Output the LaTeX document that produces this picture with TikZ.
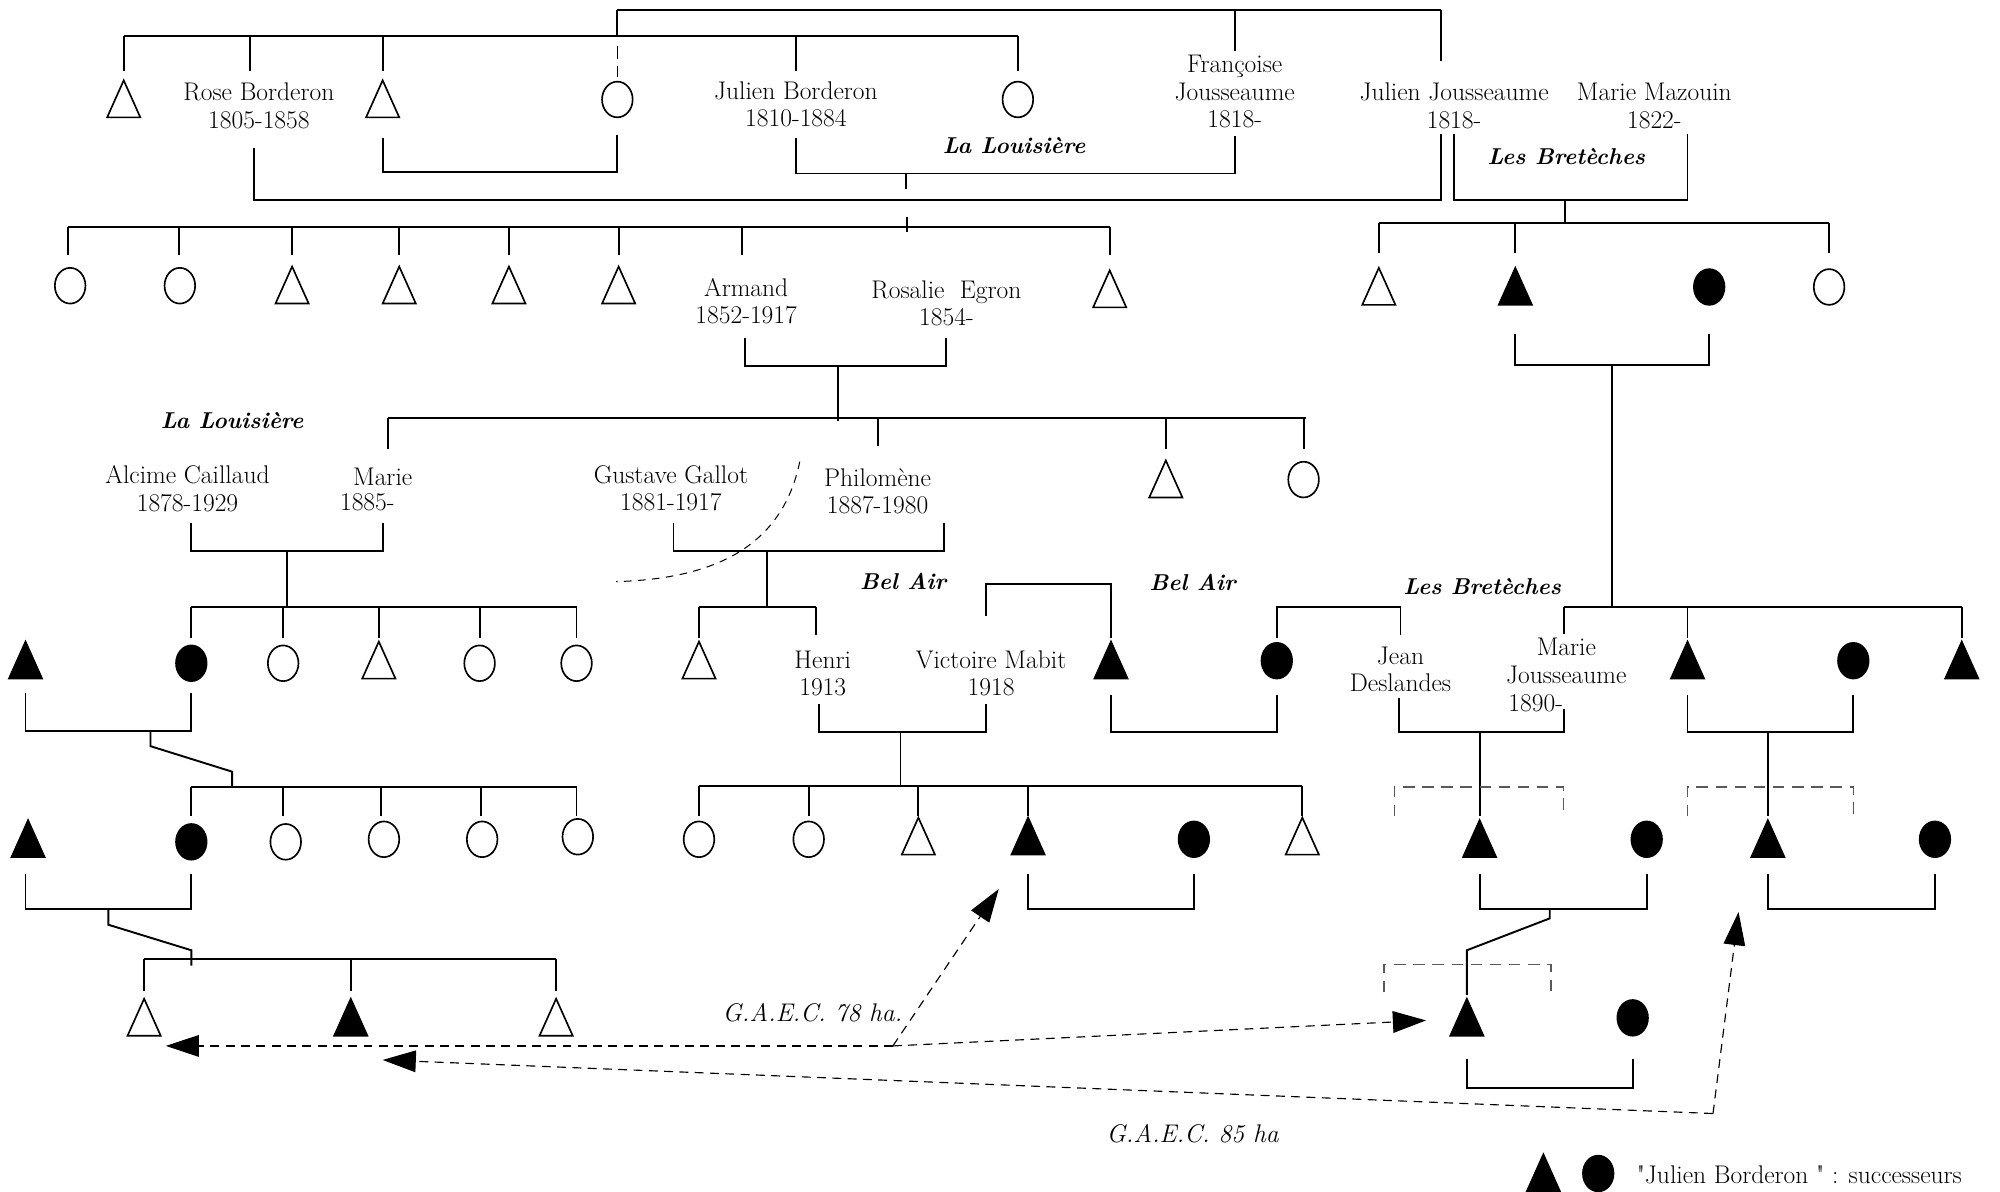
\documentclass[tikz,border=0pt]{standalone}
\usetikzlibrary{arrows.meta}
\newcommand{\symT}[3]{\coordinate (#1) at (#2,#3); \draw[shapeline,shift={(#2,#3)}] (-13,14) -- (13,14) -- (0,-15) -- cycle;}
\newcommand{\symTf}[3]{\coordinate (#1) at (#2,#3); \draw[shapeline,fill=black,shift={(#2,#3)}] (-13,14) -- (13,14) -- (0,-15) -- cycle;}
\newcommand{\symC}[3]{\coordinate (#1) at (#2,#3); \draw[shapeline] (#2,#3) ellipse [x radius=12, y radius=14];}
\newcommand{\symCf}[3]{\coordinate (#1) at (#2,#3); \draw[shapeline,fill=black] (#2,#3) ellipse [x radius=12, y radius=14];}
\begin{document}
\begin{tikzpicture}[x=1pt,y=-1pt,
  every node/.style={font=\fontsize{20}{21.5}\selectfont, inner sep=0pt, align=center},
  shapeline/.style={line width=1.3pt, line join=miter},
  kin/.style={line width=1.5pt},
  place/.style={font=\fontsize{18}{21.5}\selectfont\bfseries\itshape},
  gaec/.style={font=\fontsize{20}{21.5}\selectfont\itshape},
  dbr/.style={line width=1pt, gray!70!black, dash pattern=on 9pt off 6pt},
  flow/.style={line width=0.9pt, dash pattern=on 7pt off 5pt, -{Triangle[length=26pt,width=17pt]}}]
\useasboundingbox (0,0) rectangle (1568,934);

% ---------- generation 1 ----------
\draw[kin] (484,8) -- (1130,8);
\draw[kin] (484,8) -- (484,28);
\draw[kin] (968,8) -- (968,40);
\draw[kin] (1130,8) -- (1130,48);
\draw[kin] (97,28) -- (798,28);
\foreach \x in {97,196,300,624,798} \draw[kin] (\x,28) -- (\x,56);
\draw[line width=1.3pt, dash pattern=on 10pt off 6pt] (484,36) -- (484,60);
\symT{a1}{97}{78}
\symT{a3}{300}{78}
\symC{a4}{484}{78}
\symC{a6}{798}{78}
\node (rose) at (203,83) {Rose Borderon\\1805-1858};
\node (julienb) at (624,82) {Julien Borderon\\1810-1884};
\node (francoise) at (968,72) {Françoise\\Jousseaume\\1818-};
\node (julienj) at (1140,83) {Julien Jousseaume\\1818-};
\node (mazouin) at (1297,83) {Marie Mazouin\\1822-};
\draw[kin] (300,108) -- (300,135) -- (484,135) -- (484,106);
\draw[kin] (624,108) -- (624,136) -- (968,136) -- (968,107);
\draw[kin] (710,136) -- (710,148);
\draw[kin] (199,116) -- (199,157) -- (1130,157) -- (1130,105);
\draw[kin] (1140,105) -- (1140,157) -- (1323,157) -- (1323,105);
\draw[kin] (1227,157) -- (1227,175);
\node[place] (lou1) at (795,114) {La Louisière};
\node[place] (bre1) at (1228,123) {Les Bretèches};

% ---------- generation 2 ----------
\draw[kin] (53,178) -- (870,178);
\foreach \x in {53,140,229,313,399,485,582,870} \draw[kin] (\x,178) -- (\x,200);
\draw[kin] (711,170) -- (711,182);
\symC{b1}{55}{224}
\symC{b2}{141}{224}
\symT{b3}{229}{224}
\symT{b4}{313}{224}
\symT{b5}{399}{224}
\symT{b6}{485}{224}
\symT{b9}{870}{227}
\node (armand) at (585,236) {Armand\\1852-1917};
\node (rosalie) at (742,238) {Rosalie\ \ Egron\\1854-};
\draw[kin] (1081,175) -- (1434,175);
\foreach \x in {1081,1188,1434} \draw[kin] (\x,175) -- (\x,198);
\symT{c1}{1081}{225}
\symTf{c2}{1188}{225}
\symCf{c3}{1340}{225}
\symC{c4}{1434}{225}
\draw[kin] (1188,262) -- (1188,286) -- (1340,286) -- (1340,262);
\draw[kin] (1264,286) -- (1264,476);
\draw[kin] (584,265) -- (584,287) -- (742,287) -- (742,265);
\draw[kin] (657,287) -- (657,330);

% ---------- generation 3 ----------
\draw[kin] (304,328) -- (1024,328);
\draw[kin] (304,328) -- (304,352);
\draw[kin] (688,328) -- (688,350);
\draw[kin] (914,328) -- (914,352);
\draw[kin] (1022,328) -- (1022,352);
\node[place] (lou2) at (182,330) {La Louisière};
\node (alcime) at (147,383) {Alcime Caillaud\\1878-1929};
\node (marie1) at (300,374) {Marie};
\node (marie1d) at (288,394) {1885-};
\node (gustave) at (526,383) {Gustave Gallot\\1881-1917};
\node (philo) at (688,385) {Philomène\\1887-1980};
\symT{d1}{914}{376}
\symC{d2}{1022}{376}
\draw[kin] (150,410) -- (150,432) -- (300,432) -- (300,410);
\draw[kin] (225,432) -- (225,476);
\draw[kin] (528,410) -- (528,432) -- (740,432) -- (740,410);
\draw[kin] (601,432) -- (601,476);
\coordinate (cv1) at (627,362);
\coordinate (cv2) at (483,456);
\draw[line width=0.8pt, dash pattern=on 6pt off 5pt] (cv1) .. controls (612,435) and (550,454) .. (cv2);

% ---------- generation 4 ----------
\draw[kin] (150,476) -- (452,476);
\foreach \x in {150,222,297,376,452} \draw[kin] (\x,476) -- (\x,500);
\symTf{e1}{20}{518}
\symCf{e2}{150}{520}
\symC{e3}{222}{520}
\symT{e4}{297}{518}
\symC{e5}{376}{520}
\symC{e6}{452}{520}
\draw[kin] (20,543) -- (20,573) -- (150,573) -- (150,543);
\draw[kin] (118,573) -- (118,585) -- (182,605) -- (182,617);
\draw[kin] (548,476) -- (640,476);
\draw[kin] (548,476) -- (548,500);
\draw[kin] (640,476) -- (640,498);
\symT{f1}{548}{518}
\node (henri) at (645,528) {Henri\\1913};
\node[place] (bel1) at (708,456) {Bel Air};
\node[place] (bel2) at (935,457) {Bel Air};
\draw[kin] (773,483) -- (773,458) -- (871,458) -- (871,500);
\node (victoire) at (777,528) {Victoire Mabit\\1918};
\symTf{f2}{871}{518}
\draw[kin] (642,552) -- (642,574) -- (773,574) -- (773,552);
\draw[kin] (706,574) -- (706,616);
\draw[kin] (871,545) -- (871,574) -- (1001,574) -- (1001,545);
\draw[kin] (1001,500) -- (1001,476) -- (1098,476) -- (1098,498);
\symCf{f3}{1001}{518}
\node (jean) at (1098,525) {Jean\\Deslandes};
\node[place] (bre2) at (1162,460) {Les Bretèches};
\draw[kin] (1226,476) -- (1538,476);
\draw[kin] (1226,476) -- (1226,497);
\draw[kin] (1323,476) -- (1323,500);
\draw[kin] (1538,476) -- (1538,500);
\node (mariej1) at (1228,507) {Marie};
\node (mariej2) at (1228,529) {Jousseaume};
\node (mariej3) at (1204,551) {1890-};
\symTf{g1}{1323}{518}
\symCf{g2}{1453}{518}
\symTf{g3}{1538}{518}
\draw[kin] (1097,547) -- (1097,574) -- (1226,574) -- (1226,556);
\draw[kin] (1160,574) -- (1160,640);
\draw[kin] (1323,545) -- (1323,574) -- (1453,574) -- (1453,545);
\draw[kin] (1386,574) -- (1386,640);

% ---------- generation 5 ----------
\draw[kin] (150,617) -- (452,617);
\foreach \x in {150,222,299,377,452} \draw[kin] (\x,617) -- (\x,640);
\symTf{h1}{22}{658}
\symCf{h2}{150}{660}
\symC{h3}{224}{660}
\symC{h4}{301}{658}
\symC{h5}{378}{658}
\symC{h6}{453}{656}
\draw[kin] (20,685) -- (20,713) -- (150,713) -- (150,685);
\draw[kin] (85,713) -- (85,725) -- (150,745) -- (150,757);
\draw[kin] (113,752) -- (436,752);
\foreach \x in {113,275,436} \draw[kin] (\x,752) -- (\x,777);
\symT{k1}{113}{798}
\symTf{k2}{275}{798}
\symT{k3}{436}{798}
\draw[kin] (548,616) -- (1021,616);
\foreach \x in {548,634,720,806,1021} \draw[kin] (\x,616) -- (\x,640);
\symC{i1}{548}{658}
\symC{i2}{634}{658}
\symT{i3}{720}{656}
\symTf{i4}{806}{656}
\symCf{i5}{936}{658}
\symT{i6}{1021}{656}
\draw[kin] (806,685) -- (806,713) -- (936,713) -- (936,685);
\draw[dbr] (1093,640) -- (1093,617) -- (1226,617) -- (1226,640);
\draw[dbr] (1323,640) -- (1323,617) -- (1453,617) -- (1453,640);
\symTf{j1}{1160}{658}
\symCf{j2}{1291}{658}
\symTf{j3}{1386}{658}
\symCf{j4}{1517}{658}
\draw[kin] (1160,685) -- (1160,713) -- (1291,713) -- (1291,685);
\draw[kin] (1215,713) -- (1215,720) -- (1150,745) -- (1150,780);
\draw[dbr] (1085,778) -- (1085,756) -- (1216,756) -- (1216,778);
\draw[kin] (1386,685) -- (1386,713) -- (1517,713) -- (1517,685);
\symTf{m1}{1150}{798}
\symCf{m2}{1280}{798}
\draw[kin] (1150,830) -- (1150,853) -- (1280,853) -- (1280,830);

% ---------- transfers ----------
\coordinate (g78) at (700,820);
\coordinate (t78a) at (783,697);
\coordinate (t78b) at (130,820);
\coordinate (t78c) at (1118,800);
\coordinate (g85) at (1343,873);
\coordinate (t85a) at (300,831);
\coordinate (t85b) at (1363,715);
\draw[flow] (g78) -- (t78a);
\draw[flow] (g78) -- (t78b);
\draw[flow] (g78) -- (t78c);
\draw[flow] (g85) -- (t85a);
\draw[flow] (g85) -- (t85b);
\node[gaec] (l78) at (637,794) {G.A.E.C. 78 ha.};
\node[gaec] (l85) at (935,889) {G.A.E.C. 85 ha};

% ---------- legend ----------
\symTf{lg1}{1210}{920}
\symCf{lg2}{1253}{920}
\node[anchor=west] (legend) at (1283,921) {\textquotedbl Julien Borderon \textquotedbl\ : successeurs};
\end{tikzpicture}
\end{document}
